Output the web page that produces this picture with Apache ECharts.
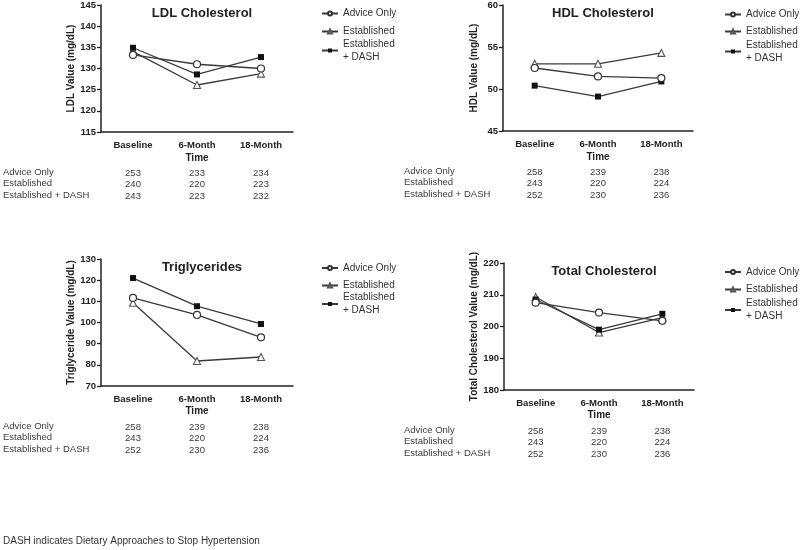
<!DOCTYPE html>
<html>
<head>
<meta charset="utf-8">
<script src="https://cdn.jsdelivr.net/npm/echarts@6/dist/echarts.min.js"></script>
<style>html,body{margin:0;padding:0;background:#fff}#c{width:800px;height:550px}</style>
</head>
<body>
<div id="c"></div>
<script>
const categories = ['Baseline', '6-Month', '18-Month'];
const groupNames = ['Advice Only', 'Established', 'Established + DASH'];

const ldlAdvice = [133.2, 131.0, 130.0];
const ldlEstablished = [134.0, 126.1, 128.8];
const ldlDash = [134.9, 128.6, 132.7];

const hdlAdvice = [52.5, 51.5, 51.3];
const hdlEstablished = [53.0, 53.0, 54.3];
const hdlDash = [50.4, 49.1, 50.9];

const trigAdvice = [111.6, 103.6, 93.0];
const trigEstablished = [109.3, 81.8, 83.7];
const trigDash = [121.0, 107.7, 99.3];

const totalAdvice = [207.5, 204.4, 201.8];
const totalEstablished = [209.3, 198.1, 202.8];
const totalDash = [208.5, 199.0, 204.0];

const ldlCounts = [[253, 233, 234], [240, 220, 223], [243, 223, 232]];
const hdlCounts = [[258, 239, 238], [243, 220, 224], [252, 230, 236]];
const trigCounts = [[258, 239, 238], [243, 220, 224], [252, 230, 236]];
const totalCounts = [[258, 239, 238], [243, 220, 224], [252, 230, 236]];

const panelTitles = ['LDL Cholesterol', 'HDL Cholesterol', 'Triglycerides', 'Total Cholesterol'];
const yNames = ['LDL Value (mg/dL)', 'HDL Value (mg/dL)', 'Triglyceride Value (mg/dL)', 'Total Cholesterol Value (mg/dL)'];
const yMin = [115, 45, 70, 180];
const yMax = [145, 60, 130, 220];
const yInterval = [5, 5, 10, 10];
const footnote = 'DASH indicates Dietary Approaches to Stop Hypertension';

const panelData = [
  [ldlAdvice, ldlEstablished, ldlDash],
  [hdlAdvice, hdlEstablished, hdlDash],
  [trigAdvice, trigEstablished, trigDash],
  [totalAdvice, totalEstablished, totalDash]
];
const panelCounts = [ldlCounts, hdlCounts, trigCounts, totalCounts];

const FONT = '"Liberation Sans", Arial, Helvetica, sans-serif';
const INK = '#222';

// layout
const grids = [
  {left: 101, top: 5, width: 192, height: 127},
  {left: 503, top: 5, width: 190, height: 126},
  {left: 101, top: 259, width: 192, height: 127},
  {left: 504, top: 263, width: 190, height: 127}
];
const yNameGap = [22, 24, 25, 25];
const titleY = [2, 2, 256, 260];
const legendX = [316, 719, 316, 719];
const legendTop = [[2, 20, 32.5], [3, 20, 33.5], [256.5, 274, 286], [260.5, 278, 292]];
const tableLabelX = [3, 404, 3, 404];

const symbolStyles = [
  {symbol: 'circle', symbolSize: 7, itemStyle: {color: '#fff', borderColor: '#333', borderWidth: 1.2}},
  {symbol: 'triangle', symbolSize: 7, itemStyle: {color: '#fff', borderColor: '#555', borderWidth: 1.1}},
  {symbol: 'rect', symbolSize: 6, itemStyle: {color: '#111', borderColor: '#111', borderWidth: 0}}
];

const option = {
  animation: false,
  backgroundColor: '#fff',
  textStyle: {fontFamily: FONT},
  grid: grids.map(g => Object.assign({containLabel: false}, g)),
  title: panelTitles.map((t, i) => ({
    text: t,
    left: grids[i].left + grids[i].width / 2,
    top: titleY[i],
    textAlign: 'center',
    textStyle: {fontFamily: FONT, fontSize: 13, fontWeight: 'bold', color: INK}
  })),
  legend: [],
  xAxis: grids.map((g, i) => ({
    type: 'category',
    gridIndex: i,
    data: categories,
    boundaryGap: true,
    name: 'Time',
    nameLocation: 'middle',
    nameGap: i >= 2 ? 20 : 21,
    nameTextStyle: {fontFamily: FONT, fontSize: 10, fontWeight: 'bold', color: INK},
    axisLine: {lineStyle: {color: INK, width: 1.5}},
    axisTick: {alignWithLabel: true, length: 4, lineStyle: {color: INK, width: 1.3}},
    axisLabel: {fontFamily: FONT, fontSize: 9.5, fontWeight: 'bold', color: INK, margin: 8},
    splitLine: {show: false}
  })),
  yAxis: grids.map((g, i) => ({
    type: 'value',
    gridIndex: i,
    min: yMin[i],
    max: yMax[i],
    interval: yInterval[i],
    name: yNames[i],
    nameLocation: 'middle',
    nameGap: yNameGap[i],
    nameRotate: 90,
    nameTextStyle: {fontFamily: FONT, fontSize: 10, fontWeight: 'bold', color: INK},
    axisLine: {show: true, lineStyle: {color: INK, width: 1.5}},
    axisTick: {show: true, length: 4, lineStyle: {color: INK, width: 1.3}},
    axisLabel: {fontFamily: FONT, fontSize: 9.5, fontWeight: 'bold', color: INK, margin: 5},
    splitLine: {show: false}
  })),
  series: []
};

panelData.forEach((arrs, p) => {
  arrs.forEach((vals, s) => {
    option.series.push(Object.assign({
      type: 'line',
      name: groupNames[s],
      xAxisIndex: p,
      yAxisIndex: p,
      data: vals,
      lineStyle: {color: '#3a3a3a', width: 1.3},
      emphasis: {disabled: true},
      z: 3 + (s === 0 ? 2 : s === 2 ? 1 : 0)
    }, symbolStyles[s]));
  });
  groupNames.forEach((n, s) => {
    option.legend.push({
      data: [n],
      left: legendX[p],
      top: legendTop[p][s],
      orient: 'vertical',
      itemWidth: 16,
      itemHeight: 5,
      itemGap: 0,
      selectedMode: false,
      formatter: name => name === 'Established + DASH' ? 'Established\n+ DASH' : name,
      textStyle: {fontFamily: FONT, fontSize: 10, color: '#333', lineHeight: 13}
    });
  });
});

const chart = echarts.init(document.getElementById('c'), null, {renderer: 'canvas'});
chart.setOption(option);

// count tables under each panel, aligned to the category positions
const graphics = [];
panelCounts.forEach((rows, p) => {
  const base = grids[p].top + grids[p].height;
  rows.forEach((row, r) => {
    const y = base + 41.5 + r * 11.2;
    graphics.push({
      type: 'text', left: tableLabelX[p], top: y - 6,
      style: {text: groupNames[r], fill: '#3a3a3a', font: '9.5px ' + FONT}
    });
    row.forEach((v, c) => {
      const px = chart.convertToPixel({xAxisIndex: p}, categories[c]);
      graphics.push({
        type: 'text', x: px, y: y,
        style: {text: String(v), fill: '#3a3a3a', font: '9.5px ' + FONT, textAlign: 'center', textVerticalAlign: 'middle'}
      });
    });
  });
});
graphics.push({
  type: 'text', left: 3, top: 536,
  style: {text: footnote, fill: '#333', font: '10px ' + FONT}
});
chart.setOption({graphic: graphics});
</script>
</body>
</html>
